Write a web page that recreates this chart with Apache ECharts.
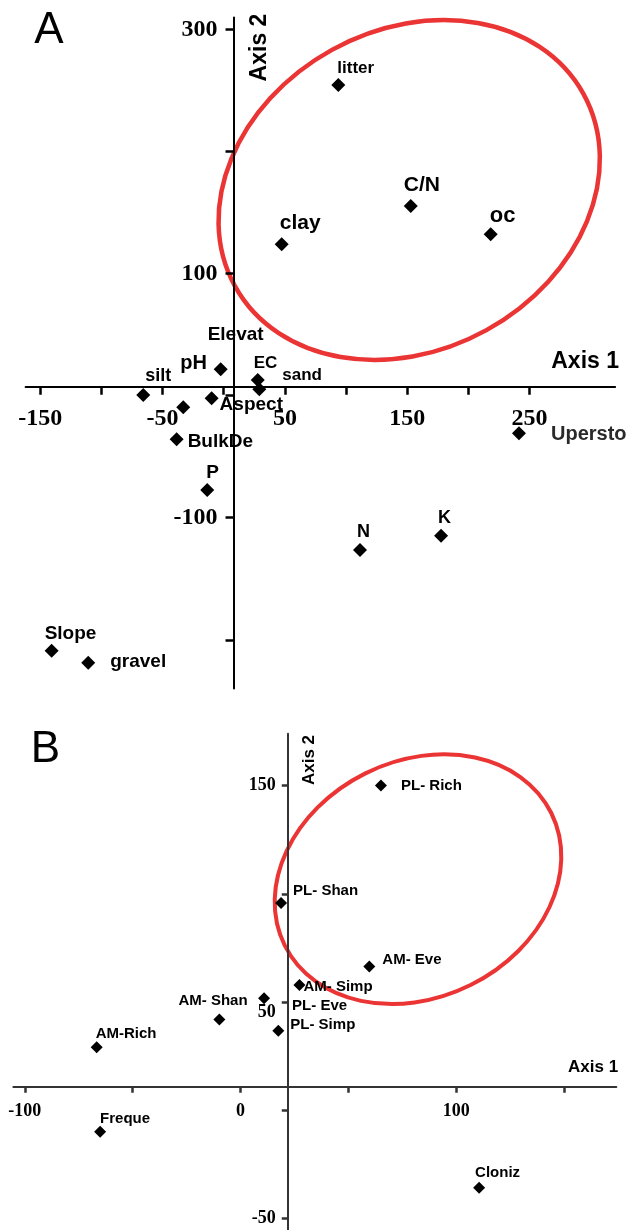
<!DOCTYPE html>
<html><head><meta charset="utf-8">
<script src="https://cdn.jsdelivr.net/npm/echarts@6/dist/echarts.min.js"></script>
<style>html,body{margin:0;padding:0;background:#fff}#c{width:626px;height:1230px}</style>
</head><body><div id="c"></div>
<script>
// ---------- Panel A data ----------
const namesA = ['litter','C/N','oc','clay','Elevat','pH','EC','sand','silt','Aspect','BulkDe','P','Slope','gravel','Uperstory','N','K'];
const xA = [93.7,152.9,218.3,47.4,-2.5,-33.1,27.8,29.1,-65.8,-9.9,-38.5,-13.5,-140.7,-110.8,241.4,111.4,177.7];
const yA = [254.6,155.4,132.3,124.1,21.6,-9.5,12.9,5.2,0.6,-2.1,-35.7,-77.3,-208.9,-218.8,-30.8,-126.4,-114.7];
const xTicksA = [-150,-100,-50,0,50,100,150,200,250];
const xLabelsA = [-150,-50,50,150,250];
const yTicksA = [300,200,100,0,-100,-200];
const yLabelsA = [300,100,-100];
// ---------- Panel B data ----------
const namesB = ['PL- Rich','PL- Shan','AM- Eve','AM- Simp','PL- Eve','PL- Simp','AM- Shan','AM-Rich','Freque','Cloniz'];
const xB = [65.1,18.8,59.7,27.3,10.9,17.5,-9.8,-66.7,-65.1,110.6];
const yB = [150.1,95.8,66.4,57.8,51.7,36.7,41.9,29.0,-10.0,-36.0];
const xTicksB = [-100,-50,0,50,100,150];
const xLabelsB = [-100,0,100];
const yTicksB = [150,100,50,0,-50];
const yLabelsB = [150,50,-50];

// ---------- layout / style ----------
const GA = {left:25.6, top:17.4, width:589.5, height:671.2, xmin:-162, xmax:320, ymin:-240, ymax:310, xCross:8.0, yCross:7.4};
const GB = {left:13.4, top:733.8, width:602.9, height:497.3, xmin:-105.3, xmax:174.2, ymin:-56, ymax:174, xCross:21.9, yCross:10.8};
// label placement: [dx to text left, dy to text middle, fontSize]
const labA = {
  'litter':[-1,-17,17],'C/N':[-7,-21,21],'oc':[-1,-18,22],'clay':[-2,-21,21],
  'Elevat':[-13,-35,19],'pH':[-3,-44,20],'EC':[-4,-17,17],'sand':[23,-14,17],
  'silt':[2,-19,18],'Aspect':[8,6,19],'BulkDe':[11,2,19],'P':[-1,-17,19],
  'Slope':[-7,-17,19],'gravel':[22,-1,19],'Uperstory':[32,1,20],'N':[-3,-18,18],'K':[-3,-18,18]
};
const labB = {
  'PL- Rich':[20,0],'PL- Shan':[12,-12],'AM- Eve':[13,-7],'AM- Simp':[4,2],'PL- Eve':[28,8],
  'PL- Simp':[12,-6],'AM- Shan':[-41,-19],'AM-Rich':[-1,-13],'Freque':[0,-13],'Cloniz':[-4,-15]
};
const SANS = 'Liberation Sans', SERIF = 'Liberation Serif';

function yOff(g){ return -((g.xCross - g.xmin)/(g.xmax-g.xmin)*g.width); }
function xOff(g){ return -((g.yCross - g.ymin)/(g.ymax-g.ymin)*g.height); }

function xAxisCfg(g, idx, ticks, labels, fs, tickLen, margin, col){
  return {type:'value', gridIndex:idx, min:g.xmin, max:g.xmax, position:'bottom', offset:xOff(g),
    axisLine:{show:true, onZero:false, lineStyle:{color:col, width:2}},
    axisTick:{show:true, customValues:ticks, length:tickLen, lineStyle:{color:col, width:2.5}},
    axisLabel:{show:true, customValues:labels, margin:margin, fontFamily:SERIF, fontWeight:'bold', fontSize:fs, color:'#000'},
    splitLine:{show:false}};
}
function yAxisCfg(g, idx, ticks, labels, fs, tickLen, margin, col, shifted){
  const lab = {show:true, customValues:labels, margin:margin, fontFamily:SERIF, fontWeight:'bold', fontSize:fs, color:'#000'};
  if (shifted !== undefined) {
    lab.formatter = v => (v === shifted ? '{d|' + v + '}' : String(v));
    lab.rich = {d:{padding:[20,0,0,0], fontFamily:SERIF, fontWeight:'bold', fontSize:fs, color:'#000'}};
  }
  return {type:'value', gridIndex:idx, min:g.ymin, max:g.ymax, position:'left', offset:yOff(g),
    axisLine:{show:true, onZero:false, lineStyle:{color:col, width:2}},
    axisTick:{show:true, customValues:ticks, length:tickLen, lineStyle:{color:col, width:2.5}},
    axisLabel:lab,
    splitLine:{show:false}};
}

const dataA = namesA.map((n,i)=>{
  const p = labA[n];
  return {name:n, value:[xA[i], yA[i]], label:{position:[7+p[0], 7+p[1]], fontSize:p[2], color: n==='Uperstory' ? '#2a2a2a' : '#000'}};
});
const dataB = namesB.map((n,i)=>{
  const p = labB[n];
  return {name:n, value:[xB[i], yB[i]], label:{position:[6+p[0], 6+p[1]]}};
});

function txt(t, x, y, size, weight, rot, align){
  return {type:'text', x:x, y:y, rotation:rot||0, z:10,
    style:{text:t, fontSize:size, fontFamily:SANS, fontWeight:weight, fill:'#000',
      align:align||'center', verticalAlign:'middle', textAlign:align||'center', textVerticalAlign:'middle'}};
}

const option = {
  animation:false,
  backgroundColor:'#fff',
  grid:[
    {left:GA.left, top:GA.top, width:GA.width, height:GA.height, outerBoundsMode:'none', containLabel:false},
    {left:GB.left, top:GB.top, width:GB.width, height:GB.height, outerBoundsMode:'none', containLabel:false}
  ],
  xAxis:[
    xAxisCfg(GA,0,xTicksA,xLabelsA,24,8,20,'#000'),
    xAxisCfg(GB,1,xTicksB,xLabelsB,18,6,16,'#333')
  ],
  yAxis:[
    yAxisCfg(GA,0,yTicksA,yLabelsA,24,8,16,'#000'),
    yAxisCfg(GB,1,yTicksB,yLabelsB,18,6,12,'#333',50)
  ],
  graphic:[
    {type:'ellipse', x:409.2, y:190, rotation:0.504, z:0, silent:true,
      shape:{cx:0, cy:0, rx:199, ry:160}, style:{fill:'none', stroke:'#eb3434', lineWidth:4.5}},
    {type:'ellipse', x:418, y:879.2, rotation:0.461, z:0, silent:true,
      shape:{cx:0, cy:0, rx:148.8, ry:118.2}, style:{fill:'none', stroke:'#eb3434', lineWidth:4}},
    txt('A', 49, 31, 44, 'normal'),
    txt('B', 45.5, 750, 44, 'normal'),
    txt('Axis 1', 619, 362, 23, 'bold', 0, 'right'),
    txt('Axis 2', 260, 47.5, 23, 'bold', Math.PI/2),
    txt('Axis 1', 568, 1067, 17, 'bold', 0, 'left'),
    txt('Axis 2', 309.3, 760, 17, 'bold', Math.PI/2)
  ],
  series:[
    {type:'scatter', xAxisIndex:0, yAxisIndex:0, symbol:'diamond', symbolSize:14, z:5, silent:true,
      itemStyle:{color:'#000', opacity:1},
      label:{show:true, formatter:'{b}', align:'left', verticalAlign:'middle', fontFamily:SANS, fontWeight:'bold', color:'#000', opacity:1},
      emphasis:{disabled:true}, data:dataA},
    {type:'scatter', xAxisIndex:1, yAxisIndex:1, symbol:'diamond', symbolSize:12, z:5, silent:true,
      itemStyle:{color:'#000', opacity:1},
      label:{show:true, formatter:'{b}', align:'left', verticalAlign:'middle', fontFamily:SANS, fontWeight:'bold', fontSize:15, color:'#000', opacity:1},
      emphasis:{disabled:true}, data:dataB}
  ]
};
const chart = echarts.init(document.getElementById('c'));
chart.setOption(option);
</script>
</body></html>
